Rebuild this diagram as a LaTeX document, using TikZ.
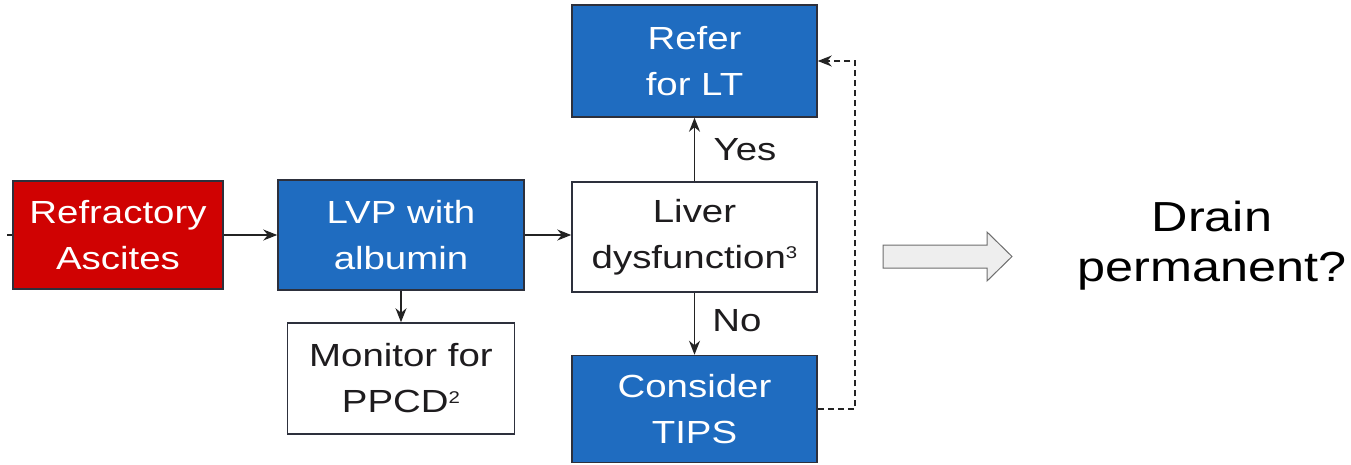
\documentclass[tikz,border=0pt]{standalone}
\usepackage{fontspec}
\setmainfont{Liberation Sans}
\newfontfamily\boxfont[FakeStretch=1.2]{Liberation Sans}
\usetikzlibrary{arrows.meta}

\definecolor{boxblue}{RGB}{31,108,192}
\definecolor{boxred}{RGB}{208,2,2}
\definecolor{edgedark}{RGB}{45,48,60}
\definecolor{linkdark}{RGB}{35,35,35}
\definecolor{textdark}{RGB}{30,28,30}
\definecolor{hollowfill}{RGB}{238,238,238}
\definecolor{hollowedge}{RGB}{110,110,110}

% small raised digits for the footnote marks
\newcommand{\fnmark}[3]{\raisebox{#1}{\fontsize{#2}{#2}\selectfont #3}}

\begin{document}
\begin{tikzpicture}[x=1pt,y=-1pt,
  flowbox/.style={draw=edgedark, line width=1.5pt, inner sep=0pt, align=center,
    font=\boxfont\fontsize{32}{46}\selectfont},
  bluebox/.style={flowbox, fill=boxblue, text=white},
  redbox/.style={flowbox, fill=boxred, text=white},
  plainbox/.style={flowbox, fill=white, text=textdark},
  link/.style={draw=linkdark, line width=1.5pt, -{Stealth[length=14pt,width=11pt]}},
  backlink/.style={link, dash pattern=on 6pt off 4pt},
  branch/.style={font=\boxfont\fontsize{32}{38}\selectfont, text=textdark, inner sep=0pt},
]
\useasboundingbox (0,0) rectangle (1351,465);

% flowchart boxes
\node[redbox, minimum width=210pt, minimum height=108pt] (ra) at (118,235) {Refractory\\Ascites};
\node[bluebox, minimum width=246pt, minimum height=110pt] (lvp) at (401,235) {LVP with\\albumin};
\node[plainbox, minimum width=245pt, minimum height=110pt] (liver) at (694.5,237)
  {Liver\\dysfunction\fnmark{10pt}{17}{3}};
\node[bluebox, minimum width=245pt, minimum height=112pt] (refer) at (694.5,61) {Refer\\for LT};
\node[bluebox, minimum width=245pt, minimum height=107pt] (tips) at (694.5,409) {Consider\\TIPS};
\node[plainbox, minimum width=227pt, minimum height=111pt] (mon) at (401,378.5)
  {Monitor for\\PPCD\fnmark{9pt}{17}{2}};

% connectors
\coordinate (in) at (7,235);
\draw[draw=linkdark, line width=1.6pt] (in) -- (ra.west);
\draw[link] (ra.east) -- (lvp.west);
\draw[link] (lvp.east) -- (liver.west |- lvp.east);
\draw[link] (lvp.south) -- (mon.north);
\draw[link] (liver.north) -- (refer.south);
\draw[link] (liver.south) -- (tips.north);
\coordinate (loop) at (855,409);
\draw[backlink] (tips.east) -- (loop) |- (refer.east);

% branch labels
\node[branch] (yes) at (745,150) {Yes};
\node[branch] (no) at (737,321) {No};

% hollow block arrow
\draw[fill=hollowfill, draw=hollowedge, line width=1pt, line join=miter]
  (883,245) -- (987,245) -- (987,232) -- (1012,256.5) -- (987,281) -- (987,268) -- (883,268) -- cycle;

% question text
\node[font=\boxfont\fontsize{42}{50}\selectfont, text=black, align=center, inner sep=0pt]
  (drain) at (1212,246) {Drain\\permanent?};
\end{tikzpicture}
\end{document}
